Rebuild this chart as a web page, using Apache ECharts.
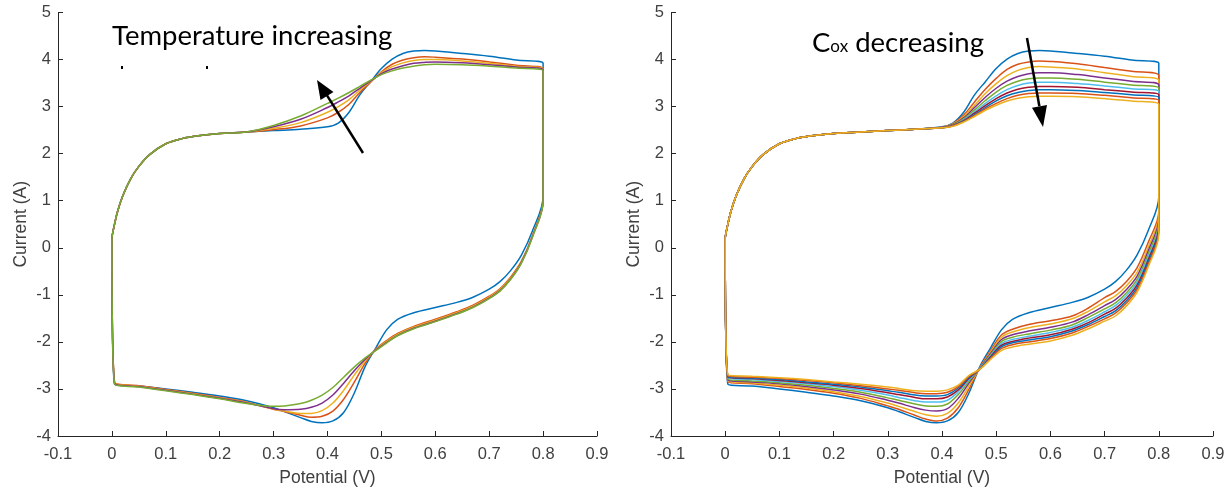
<!DOCTYPE html>
<html>
<head>
<meta charset="utf-8">
<script src="https://cdn.jsdelivr.net/npm/echarts@6/dist/echarts.min.js"></script>
<style>
  html, body { margin: 0; padding: 0; background: #fff; }
  #chart { width: 1229px; height: 494px; }
</style>
</head>
<body>
<div id="chart"></div>
<script>
// shared start of the anodic sweep (all curves overlap here)
const startX = [0, 0.003, 0.01, 0.02, 0.035, 0.05, 0.07, 0.1, 0.13, 0.16, 0.2, 0.25]
const startY = [0.22, 0.4, 0.75, 1.1, 1.47, 1.73, 1.98, 2.21, 2.32, 2.38, 2.43, 2.46]

// potentials of the forward (upper) and reverse (lower) branches
const fwdX = [0.3, 0.35, 0.4, 0.42, 0.44, 0.46, 0.48, 0.5, 0.52, 0.54, 0.56, 0.58, 0.6, 0.65, 0.7, 0.75, 0.8]
const revX = [0.8, 0.78, 0.76, 0.74, 0.72, 0.7, 0.67, 0.64, 0.6, 0.56, 0.53, 0.51, 0.49, 0.47, 0.45, 0.43, 0.41, 0.39, 0.37, 0.35, 0.32, 0.3, 0.25, 0.2, 0.15, 0.1, 0.05, 0.005]

// reference curve (blue, same in both panels)
const refFwd = [2.49, 2.52, 2.57, 2.65, 2.88, 3.25, 3.53, 3.81, 4.01, 4.13, 4.18, 4.19, 4.18, 4.13, 4.07, 3.99, 3.92]
const refRev = [1.09, 0.35, -0.15, -0.48, -0.72, -0.88, -1.05, -1.16, -1.27, -1.38, -1.52, -1.74, -2.12, -2.52, -3.08, -3.5, -3.68, -3.72, -3.69, -3.61, -3.48, -3.4, -3.25, -3.15, -3.07, -3.0, -2.94, -2.9]

// left panel: temperature increasing
const tempFwd = [
  [2.51, 2.59, 2.76, 2.88, 3.05, 3.30, 3.52, 3.74, 3.90, 3.99, 4.04, 4.06, 4.05, 4.01, 3.95, 3.88, 3.80],
  [2.54, 2.66, 2.88, 3.00, 3.15, 3.35, 3.53, 3.72, 3.85, 3.93, 3.98, 4.00, 4.00, 3.97, 3.92, 3.86, 3.79],
  [2.57, 2.73, 2.98, 3.10, 3.23, 3.39, 3.54, 3.70, 3.80, 3.87, 3.92, 3.94, 3.95, 3.93, 3.89, 3.84, 3.78],
  [2.60, 2.80, 3.07, 3.18, 3.30, 3.43, 3.56, 3.68, 3.76, 3.82, 3.86, 3.89, 3.90, 3.89, 3.86, 3.82, 3.76]
]
const tempRev = [
  [1.02, 0.25, -0.28, -0.62, -0.87, -1.03, -1.22, -1.36, -1.52, -1.67, -1.82, -1.97, -2.15, -2.45, -2.85, -3.22, -3.47, -3.58, -3.6, -3.56, -3.48, -3.43, -3.28, -3.18, -3.09, -3.01, -2.93, -2.86],
  [1.01, 0.24, -0.3, -0.64, -0.89, -1.05, -1.24, -1.38, -1.54, -1.69, -1.84, -1.99, -2.16, -2.4, -2.7, -3.03, -3.3, -3.46, -3.52, -3.52, -3.47, -3.43, -3.29, -3.19, -3.1, -3.02, -2.94, -2.87],
  [1.0, 0.23, -0.31, -0.66, -0.91, -1.07, -1.26, -1.4, -1.56, -1.71, -1.86, -2.01, -2.17, -2.37, -2.61, -2.88, -3.13, -3.3, -3.39, -3.43, -3.44, -3.42, -3.3, -3.2, -3.11, -3.03, -2.95, -2.88],
  [0.99, 0.22, -0.32, -0.67, -0.92, -1.08, -1.27, -1.41, -1.57, -1.72, -1.87, -2.02, -2.18, -2.34, -2.53, -2.75, -2.97, -3.13, -3.24, -3.31, -3.36, -3.37, -3.31, -3.21, -3.12, -3.04, -2.96, -2.9]
]

// right panel: Cox decreasing
const coxFwd = [
  [2.49, 2.52, 2.56, 2.64, 2.82, 3.10, 3.37, 3.60, 3.79, 3.90, 3.95, 3.97, 3.96, 3.91, 3.83, 3.75, 3.66],
  [2.49, 2.52, 2.56, 2.63, 2.79, 3.03, 3.28, 3.49, 3.66, 3.77, 3.83, 3.85, 3.84, 3.80, 3.72, 3.64, 3.56],
  [2.49, 2.52, 2.56, 2.62, 2.76, 2.98, 3.20, 3.39, 3.54, 3.64, 3.70, 3.72, 3.72, 3.68, 3.61, 3.54, 3.46],
  [2.49, 2.52, 2.55, 2.61, 2.74, 2.93, 3.13, 3.31, 3.45, 3.54, 3.59, 3.61, 3.61, 3.58, 3.52, 3.46, 3.39],
  [2.49, 2.52, 2.55, 2.60, 2.72, 2.89, 3.07, 3.23, 3.36, 3.45, 3.50, 3.52, 3.52, 3.49, 3.44, 3.38, 3.32],
  [2.49, 2.52, 2.55, 2.60, 2.70, 2.86, 3.02, 3.17, 3.29, 3.37, 3.41, 3.43, 3.43, 3.41, 3.36, 3.31, 3.25],
  [2.49, 2.52, 2.55, 2.59, 2.69, 2.83, 2.98, 3.12, 3.23, 3.30, 3.34, 3.36, 3.36, 3.34, 3.30, 3.25, 3.19],
  [2.49, 2.52, 2.55, 2.59, 2.68, 2.81, 2.95, 3.07, 3.17, 3.24, 3.28, 3.29, 3.29, 3.28, 3.24, 3.19, 3.13],
  [2.49, 2.52, 2.55, 2.58, 2.67, 2.79, 2.92, 3.03, 3.12, 3.18, 3.21, 3.22, 3.22, 3.21, 3.17, 3.12, 3.05]
]
const coxRev = [
  [0.78, 0.1, -0.42, -0.72, -0.93, -1.06, -1.28, -1.45, -1.55, -1.63, -1.73, -1.85, -2.18, -2.54, -3.0, -3.4, -3.62, -3.68, -3.64, -3.56, -3.43, -3.36, -3.2, -3.09, -3.01, -2.95, -2.89, -2.85],
  [0.7, 0.0, -0.52, -0.81, -1.02, -1.15, -1.35, -1.51, -1.62, -1.7, -1.79, -1.9, -2.21, -2.55, -2.93, -3.3, -3.52, -3.58, -3.55, -3.48, -3.37, -3.3, -3.16, -3.06, -2.98, -2.92, -2.87, -2.83],
  [0.62, -0.08, -0.6, -0.89, -1.1, -1.23, -1.42, -1.58, -1.69, -1.77, -1.85, -1.95, -2.24, -2.55, -2.87, -3.2, -3.42, -3.47, -3.45, -3.4, -3.3, -3.24, -3.11, -3.02, -2.95, -2.89, -2.85, -2.81],
  [0.56, -0.15, -0.67, -0.96, -1.17, -1.3, -1.48, -1.64, -1.75, -1.83, -1.9, -1.99, -2.27, -2.56, -2.83, -3.12, -3.32, -3.37, -3.36, -3.32, -3.24, -3.19, -3.07, -2.99, -2.92, -2.87, -2.83, -2.79],
  [0.5, -0.21, -0.73, -1.02, -1.23, -1.36, -1.54, -1.69, -1.8, -1.88, -1.95, -2.03, -2.29, -2.56, -2.8, -3.06, -3.24, -3.28, -3.28, -3.25, -3.18, -3.13, -3.03, -2.95, -2.89, -2.84, -2.8, -2.77],
  [0.45, -0.27, -0.79, -1.08, -1.29, -1.41, -1.59, -1.73, -1.85, -1.92, -1.99, -2.07, -2.31, -2.57, -2.77, -3.02, -3.17, -3.21, -3.21, -3.18, -3.12, -3.08, -2.99, -2.92, -2.87, -2.82, -2.78, -2.75],
  [0.4, -0.32, -0.84, -1.13, -1.34, -1.46, -1.63, -1.77, -1.89, -1.96, -2.02, -2.1, -2.33, -2.57, -2.75, -2.98, -3.12, -3.15, -3.15, -3.13, -3.07, -3.04, -2.96, -2.9, -2.85, -2.8, -2.77, -2.74],
  [0.35, -0.37, -0.89, -1.18, -1.39, -1.51, -1.67, -1.81, -1.93, -2.0, -2.06, -2.14, -2.35, -2.58, -2.73, -2.95, -3.07, -3.1, -3.1, -3.08, -3.03, -3.0, -2.93, -2.87, -2.82, -2.78, -2.75, -2.72],
  [0.3, -0.42, -0.94, -1.24, -1.45, -1.56, -1.72, -1.86, -1.98, -2.05, -2.11, -2.18, -2.37, -2.58, -2.71, -2.92, -3.02, -3.05, -3.05, -3.04, -2.99, -2.96, -2.9, -2.85, -2.8, -2.76, -2.73, -2.7]
]

const colors = ['#0072BD', '#D95319', '#EDB120', '#7E2F8E', '#77AC30', '#4DBEEE', '#A2142F']
const xTicks = { min: -0.1, max: 0.9, step: 0.1 }
const yTicks = { min: -4, max: 5, step: 1 }

// one closed CV loop: shared start, forward branch, reverse branch, back to start
function loop(fwd, rev) {
  const pts = startX.map((x, i) => [x, startY[i]])
  fwdX.forEach((x, i) => pts.push([x, fwd[i]]))
  revX.forEach((x, i) => pts.push([x, rev[i]]))
  pts.push([startX[0], startY[0]])
  return pts
}

const axisColor = '#262626'
const labelColor = '#404040'
const font = 'Liberation Sans'

function xAxis(gridIndex) {
  return {
    gridIndex, type: 'value', min: xTicks.min, max: xTicks.max, interval: xTicks.step,
    name: 'Potential (V)', nameLocation: 'middle', nameGap: 33,
    nameTextStyle: { color: labelColor, fontSize: 17.5, fontFamily: font },
    axisLine: { onZero: false, lineStyle: { color: axisColor, width: 1 } },
    axisTick: { inside: true, length: 5, lineStyle: { color: axisColor } },
    axisLabel: { color: labelColor, fontSize: 16.5, fontFamily: font, margin: 10,
      formatter: v => String(Math.round(v * 10) / 10) },
    splitLine: { show: false },
  }
}
function yAxis(gridIndex) {
  return {
    gridIndex, type: 'value', min: yTicks.min, max: yTicks.max, interval: yTicks.step,
    name: 'Current (A)', nameLocation: 'middle', nameGap: 28,
    nameTextStyle: { color: labelColor, fontSize: 17.5, fontFamily: font },
    axisLine: { show: true, onZero: false, lineStyle: { color: axisColor, width: 1 } },
    axisTick: { show: true, inside: true, length: 5, lineStyle: { color: axisColor } },
    axisLabel: { color: labelColor, fontSize: 16.5, fontFamily: font, margin: 7 },
    splitLine: { show: false },
  }
}

const series = []
function addCurve(idx, data, color) {
  series.push({
    type: 'line', xAxisIndex: idx, yAxisIndex: idx, data,
    smooth: 0.35, symbol: 'none', silent: true,
    lineStyle: { color, width: 1.5 },
  })
}
addCurve(0, loop(refFwd, refRev), colors[0])
tempFwd.forEach((f, i) => addCurve(0, loop(f, tempRev[i]), colors[(i + 1) % 7]))
addCurve(1, loop(refFwd, refRev), colors[0])
coxFwd.forEach((f, i) => addCurve(1, loop(f, coxRev[i]), colors[(i + 1) % 7]))

const chart = echarts.init(document.getElementById('chart'))
chart.setOption({
  animation: false,
  grid: [
    { left: 58, top: 12.5, width: 539, height: 423.5 },
    { left: 671, top: 12.5, width: 542, height: 423.5 },
  ],
  xAxis: [xAxis(0), xAxis(1)],
  yAxis: [yAxis(0), yAxis(1)],
  series,
  graphic: [
    { type: 'text', left: 112, top: 22, z: 100,
      style: { text: 'Temperature increasing', fill: '#000', fontFamily: 'Lato', fontSize: 27.5 } },
    { type: 'rect', shape: { x: 121, y: 66, width: 2, height: 3 }, style: { fill: '#000' }, z: 100 },
    { type: 'rect', shape: { x: 206, y: 66, width: 2, height: 3 }, style: { fill: '#000' }, z: 100 },
    { type: 'line', shape: { x1: 363, y1: 153, x2: 327, y2: 95.4 }, style: { stroke: '#000', lineWidth: 2.5 }, z: 100 },
    { type: 'polygon', shape: { points: [[317, 80], [333.5, 92], [320.5, 100]] }, style: { fill: '#000' }, z: 100 },
    { type: 'text', left: 812, top: 29, z: 100,
      style: {
        text: '{c|C}{s|ox}{c| decreasing}',
        rich: {
          c: { fill: '#000', fontFamily: 'Lato', fontSize: 27.5, lineHeight: 30, verticalAlign: 'bottom' },
          s: { fill: '#000', fontFamily: 'Lato', fontSize: 17, lineHeight: 17, verticalAlign: 'bottom', padding: [0, 0, 2, 0] },
        },
      } },
    { type: 'line', shape: { x1: 1027, y1: 38, x2: 1039.4, y2: 106.3 }, style: { stroke: '#000', lineWidth: 2.5 }, z: 100 },
    { type: 'polygon', shape: { points: [[1043, 127], [1047, 105], [1032, 107.7]] }, style: { fill: '#000' }, z: 100 },
  ],
})
</script>
</body>
</html>
